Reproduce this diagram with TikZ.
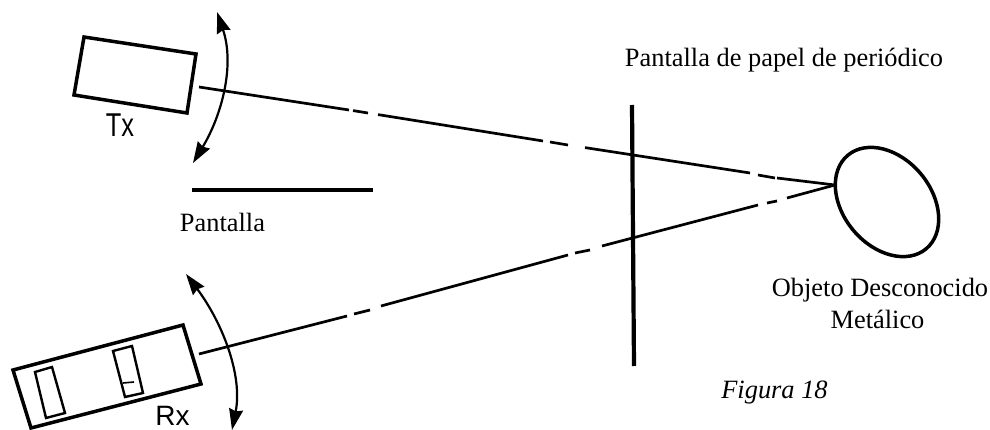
\documentclass[tikz,border=0pt]{standalone}
\usepackage{fontspec}
\setmainfont{Liberation Serif}
\setsansfont{Liberation Sans}
\usetikzlibrary{arrows.meta,shapes.geometric}
\tikzset{
  box/.style={draw=black,line width=3.5pt,line join=miter},
  innerbox/.style={draw=black,line width=2.4pt},
  beam/.style={draw=black,line width=2.7pt},
  screenline/.style={draw=black,line width=4.2pt},
  swing/.style={draw=black,line width=2.2pt,{Stealth[length=21pt,width=14pt,inset=2pt]}-{Stealth[length=21pt,width=14pt,inset=2pt]}},
  lbl/.style={anchor=base,inner sep=0pt,font=\fontsize{26.4}{26.4}\selectfont},
  tag/.style={anchor=base,inner sep=0pt,font=\sffamily\fontsize{28}{28}\selectfont}
}
\begin{document}
\begin{tikzpicture}[x=1pt,y=-1pt]
\useasboundingbox (0,0) rectangle (990,430);
% boxes
\draw[box] (84,37) -- (196,54) -- (187,113) -- (74,95) -- cycle;
\draw[box] (13,370) -- (183,325) -- (201,384) -- (31,428) -- cycle;
\draw[innerbox] (35,372) -- (52,367) -- (65,413) -- (46,418) -- cycle;
\draw[innerbox] (113,351) -- (132,346) -- (143,393) -- (125,397) -- cycle;
\draw[line width=1.6pt] (123,383) -- (134,382);
% named points
\coordinate (txout) at (199,87);
\coordinate (rxout) at (199,354);
\coordinate (tip) at (835,185);
\coordinate (scrTop) at (632,105);
\coordinate (scrBot) at (634,366);
\coordinate (panL) at (192,190);
\coordinate (panR) at (373,190);
\node[draw=black,line width=3.5pt,ellipse,minimum width=122pt,minimum height=88pt,inner sep=0pt,rotate=-50] (obj) at (887,202) {};
% upper beam
\draw[beam] (txout) -- (349,110);
\draw[beam] (353,110.6) -- (368,113);
\draw[beam] (378,114.6) -- (543,141);
\draw[beam] (550,142) -- (568,145);
\draw[beam] (585,147.6) -- (750,173);
\draw[beam] (758,175) -- (775,178);
\draw[beam] (777,178) -- (tip);
% lower beam
\draw[beam] (rxout) -- (347,316);
\draw[beam] (354,314) -- (370,310);
\draw[beam] (381,306) -- (568,255);
\draw[beam] (575,253) -- (590,250);
\draw[beam] (602,246) -- (758,205);
\draw[beam] (767,203) -- (777,201);
\draw[beam] (787,198) -- (tip);
% screens
\draw[screenline] (scrTop) -- (scrBot);
\draw[screenline] (panL) -- (panR);
% swing arrows
\coordinate (upA) at (193,163);
\coordinate (upB) at (217,12);
\coordinate (loA) at (186,274);
\coordinate (loB) at (232,430);
\draw[swing] (upA) .. controls (222,115) and (235,65) .. (upB);
\draw[swing] (loA) .. controls (222,322) and (243,375) .. (loB);
% labels
\node[tag,font=\sffamily\fontsize{33}{33}\selectfont,xscale=.77] (tx) at (120,137) {Tx};
\node[tag] (rx) at (172.5,425.5) {Rx};
\node[lbl] (t1) at (784,67) {Pantalla de papel de periódico};
\node[lbl] (t2) at (222.5,232) {Pantalla};
\node[lbl] (t3) at (880,297) {Objeto Desconocido};
\node[lbl] (t4) at (877.5,328) {Metálico};
\node[lbl,font=\itshape\fontsize{26.4}{26.4}\selectfont] (t5) at (774.5,398) {Figura 18};
\end{tikzpicture}
\end{document}
